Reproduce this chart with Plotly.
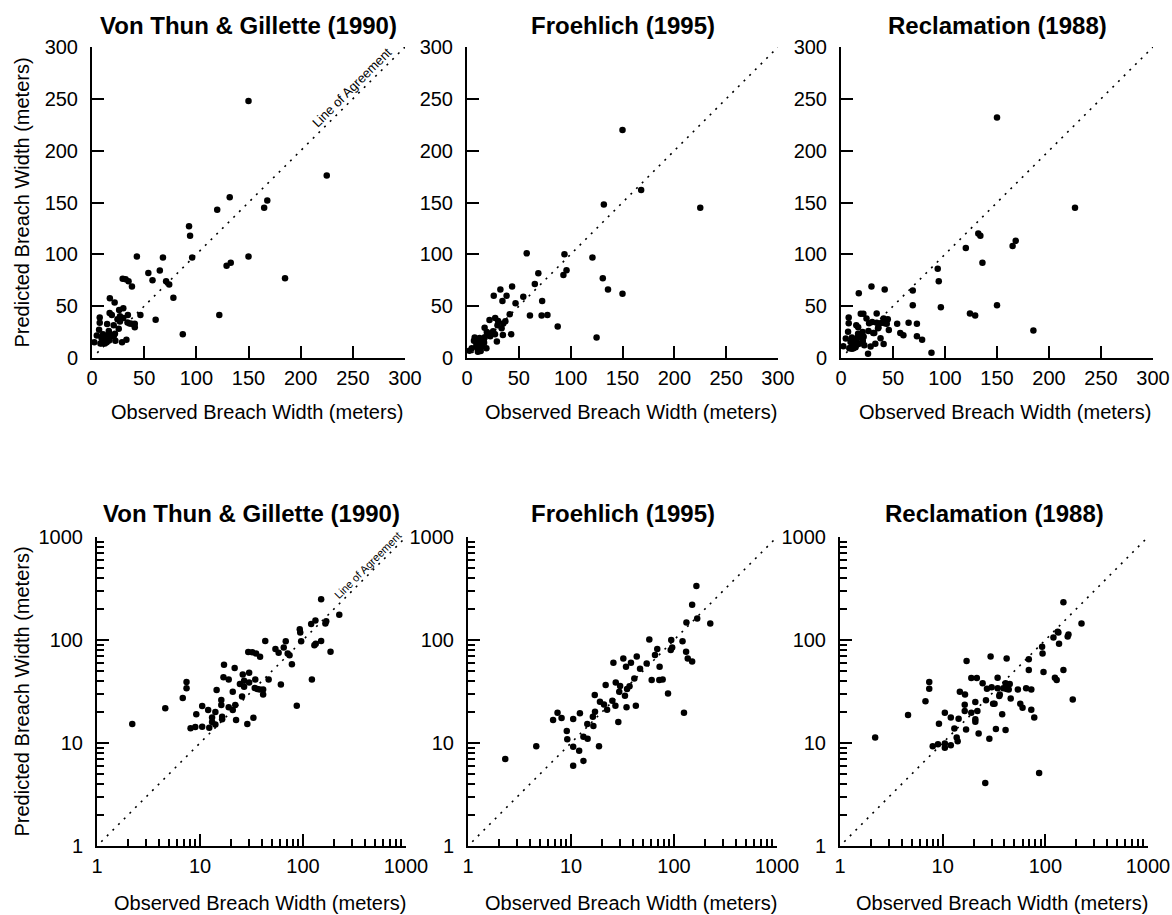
import plotly.graph_objects as go

# Observed vs predicted breach width (meters)
obs_vtg = [2.2, 4.6, 6.8, 7.4, 7.4, 8.1, 9.0, 10.5, 10.5, 9.2, 12, 12.3, 13.1, 13.1, 14.1,
           14.1, 14.5, 16.1, 16.1, 16.4, 16.4, 16.9, 17.1, 19, 19, 20.8, 20.8, 21.7, 22.4, 22,
           24.4, 25.6, 26, 26.8, 26.8, 28.8, 29.4, 30, 30, 32.2, 33, 34.4, 35, 34, 36,
           38.3, 38, 41, 41, 43, 46.4, 54, 58, 61, 65, 68, 71, 74, 78, 87,
           93, 94, 96, 122, 120, 132, 129, 133, 150, 150, 165, 168, 185, 225]
pred_vtg = [15.3, 21.7, 27.3, 39, 34, 13.9, 14.3, 22.9, 14.4, 19, 20.9, 14.1, 17.7, 16, 20,
            15.1, 32.7, 26.1, 23.4, 18, 17, 43.5, 57.6, 41.4, 22.2, 31.5, 20.9, 53.5, 16.7, 23.4,
            37.4, 28.2, 46.3, 40.3, 35.2, 15.3, 76.4, 48, 38.7, 76, 17.6, 41.4, 74, 34.2, 33.4,
            68.9, 33, 33, 29.6, 98, 41.4, 82, 75, 37, 84.5, 97, 74, 71, 58, 23,
            127, 118, 97, 41.4, 143, 155, 89, 92, 98, 248, 145, 152, 77, 176]

obs_fro = [2.3, 4.6, 6.7, 7.4, 8.1, 9.1, 9.2, 10.5, 10.5, 10.5, 12, 13.2, 12.2, 13.2, 14.5,
           14.4, 16.5, 16.3, 17.1, 17, 18.7, 19.1, 20.9, 21.7, 22.4, 25.2, 25.8, 27, 27.2, 28.8,
           29.4, 30, 32.2, 33.4, 34.2, 34.6, 35, 37, 38.2, 41.2, 42.6, 43.5, 46.8, 54.3, 57.6,
           60.7, 65.4, 68.8, 72, 72.5, 77.6, 87.5, 93, 94, 96, 121, 131, 125, 132, 136,
           150, 150, 165, 168, 225]
pred_fro = [7.0, 9.3, 16.7, 19.7, 17.5, 13.1, 10.9, 17.1, 9.2, 6.0, 8.4, 6.7, 19.4, 11.5, 11,
            15.3, 14.6, 18, 20.1, 29.2, 9.3, 25.2, 23.7, 36.6, 21, 25.7, 60, 23, 38.7, 16,
            31.5, 35.7, 66, 28.8, 55, 22.2, 33.4, 35.5, 60, 42.3, 23, 69, 52.7, 59.2, 101,
            40.9, 71.5, 81.8, 41, 55, 41.4, 30.3, 80, 100, 84.6, 97, 76.9, 19.7, 148, 66,
            220, 62, 335, 162, 145]

obs_rec = [2.2, 4.6, 6.8, 7.4, 7.4, 8.0, 9.0, 9.2, 10.5, 10.5, 10.5, 12, 12, 13, 13.7,
           14.3, 14.7, 14, 16.4, 16.5, 16.9, 16.4, 17.1, 19, 19, 20.8, 20.8, 20.8, 21.5, 21.8,
           22.4, 24.5, 26.4, 27, 28.5, 29.3, 30, 31, 32, 34.3, 34.3, 38, 35.6, 36, 39,
           41, 42, 42, 44, 45, 46, 41, 33, 54, 57, 60, 65, 69, 69, 73,
           73, 78, 93, 94, 96, 185, 120, 124, 132, 134, 136, 150, 150, 165, 168,
           225, 26, 87, 129]
pred_rec = [11.3, 18.7, 25.4, 39, 33.6, 9.3, 9.7, 15.4, 19.7, 9.9, 9.0, 17.7, 9.5, 13.8, 11.3,
            17.2, 31.5, 10.4, 23.5, 29.6, 13.5, 20.5, 62.5, 42.7, 19.7, 25, 16.1, 17, 42.7, 20.5,
            12.4, 38, 26, 33.6, 11, 69, 34.7, 24, 24, 43, 34, 19, 28.6, 29.5, 34,
            38, 66, 33.5, 33, 37.4, 27, 13.4, 13.7, 33, 24, 22, 34, 51, 65, 33,
            21, 17.7, 86, 74, 49, 26.5, 106, 43, 120, 118, 92, 232, 51, 108, 113,
            145, 4.1, 5.1, 41]

titles = ["Von Thun & Gillette (1990)", "Froehlich (1995)", "Reclamation (1988)"]
lin_ticks = [0, 50, 100, 150, 200, 250, 300]
log_ticks = [1, 10, 100, 1000]
log_minor = [2, 3, 4, 5, 6, 7, 8, 9, 20, 30, 40, 50, 60, 70, 80, 90,
             200, 300, 400, 500, 600, 700, 800, 900]
agree_lin = [5, 300]
agree_log = [1.1, 1000]

FONT = "Arial, Liberation Sans, sans-serif"
W, H = 1172, 915

# panel boxes in page pixels
top_cols = [(92, 405), (467, 778), (841, 1153)]
bot_cols = [(97, 406), (468, 777), (840, 1148)]
top_rows = (47, 358)
bot_rows = (537, 846)


def fx(px):
    return px / W


def fy(py):
    return 1 - py / H


series = [(obs_vtg, pred_vtg), (obs_fro, pred_fro), (obs_rec, pred_rec)]

fig = go.Figure()
layout = {}

axis_common = dict(showline=True, linecolor="black", linewidth=2, ticks="inside",
                   ticklen=12, tickwidth=2, tickcolor="black", showgrid=False,
                   zeroline=False, automargin=False, ticklabeloverflow="allow",
                   tickfont=dict(size=20, color="black", family=FONT))

for i in range(6):
    n = i + 1
    xs, ys = series[i % 3]
    is_log = i >= 3
    cols = bot_cols if is_log else top_cols
    rows = bot_rows if is_log else top_rows
    c0, c1 = cols[i % 3]
    xa = "x" if n == 1 else "x%d" % n
    ya = "y" if n == 1 else "y%d" % n
    line_xy = agree_log if is_log else agree_lin

    fig.add_trace(go.Scatter(x=line_xy, y=line_xy, mode="lines", xaxis=xa, yaxis=ya,
                             line=dict(color="black", width=1.6, dash="2px,6px"),
                             hoverinfo="skip", showlegend=False))
    fig.add_trace(go.Scatter(x=xs, y=ys, mode="markers", xaxis=xa, yaxis=ya,
                             marker=dict(color="black", size=6.5), showlegend=False))

    xaxis = dict(axis_common, domain=[fx(c0), fx(c1)], anchor=ya, ticklabelstandoff=1)
    yaxis = dict(axis_common, domain=[fy(rows[1]), fy(rows[0])], anchor=xa, ticklabelstandoff=8)
    if is_log:
        for ax in (xaxis, yaxis):
            ax.update(type="log", range=[0, 3], tickvals=log_ticks,
                      ticktext=[str(t) for t in log_ticks],
                      minor=dict(tickvals=log_minor, ticks="inside", ticklen=7,
                                 tickwidth=1.5, tickcolor="black", showgrid=False))
    else:
        for ax in (xaxis, yaxis):
            ax.update(range=[0, 300], tickvals=lin_ticks)
    layout["xaxis" if n == 1 else "xaxis%d" % n] = xaxis
    layout["yaxis" if n == 1 else "yaxis%d" % n] = yaxis

fig.update_layout(**layout)

annotations = []
for r, (rows, cols) in enumerate([(top_rows, top_cols), (bot_rows, bot_cols)]):
    title_y = 25 if r == 0 else 513
    xt_y = 412 if r == 0 else 903
    for j, (c0, c1) in enumerate(cols):
        annotations.append(dict(text="<b>%s</b>" % titles[j], x=fx((c0 + c1) / 2), y=fy(title_y),
                                xref="paper", yref="paper", showarrow=False,
                                xanchor="center", yanchor="middle",
                                font=dict(size=24, family=FONT, color="black")))
        annotations.append(dict(text="Observed Breach Width (meters)", x=fx((c0 + c1) / 2 + 8),
                                y=fy(xt_y), xref="paper", yref="paper", showarrow=False,
                                xanchor="center", yanchor="middle",
                                font=dict(size=20, family=FONT, color="black")))
    annotations.append(dict(text="Predicted Breach Width (meters)", x=fx(21),
                            y=fy((rows[0] + rows[1]) / 2), xref="paper", yref="paper",
                            showarrow=False, textangle=-90,
                            xanchor="center", yanchor="middle",
                            font=dict(size=20, family=FONT, color="black")))

annotations.append(dict(text="Line of Agreement", x=249, y=261, xref="x", yref="y",
                        showarrow=False, textangle=-45,
                        font=dict(size=13, family=FONT, color="black")))
annotations.append(dict(text="Line of Agreement", x=2.63, y=2.73, xref="x4", yref="y4",
                        showarrow=False, textangle=-45,
                        font=dict(size=11, family=FONT, color="black")))

fig.update_layout(annotations=annotations, width=W, height=H,
                  margin=dict(l=0, r=0, t=0, b=0), paper_bgcolor="white",
                  plot_bgcolor="white", font=dict(family=FONT, color="black"))

# drop the page's default body margin so the figure fills the window
fig.write_html("out.html", config={"displayModeBar": False},
               post_script="document.body.style.margin='0';document.body.style.overflow='hidden';")
